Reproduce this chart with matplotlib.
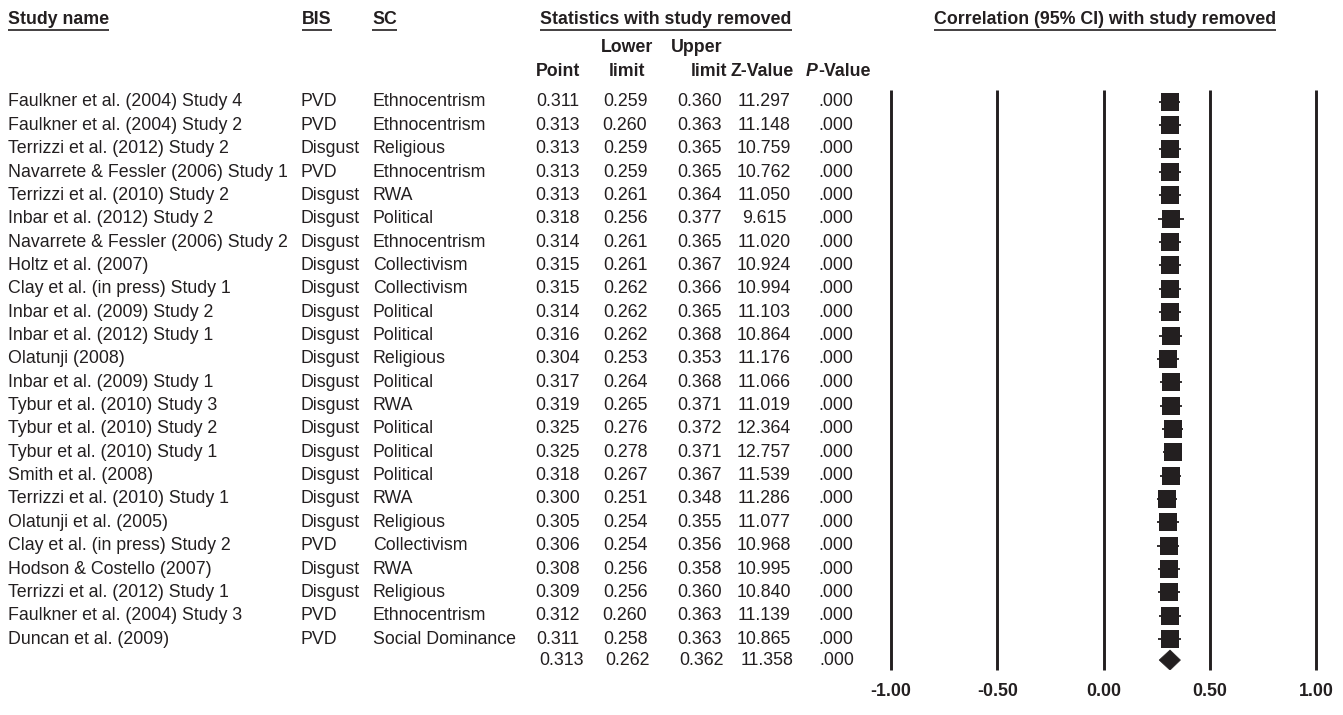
import matplotlib.pyplot as plt
from matplotlib.patches import Polygon

plt.rcParams['font.family'] = ['Liberation Sans', 'DejaVu Sans']

INK = '#231f20'

studies = ['Faulkner et al. (2004) Study 4', 'Faulkner et al. (2004) Study 2',
           'Terrizzi et al. (2012) Study 2', 'Navarrete & Fessler (2006) Study 1',
           'Terrizzi et al. (2010) Study 2', 'Inbar et al. (2012) Study 2',
           'Navarrete & Fessler (2006) Study 2', 'Holtz et al. (2007)',
           'Clay et al. (in press) Study 1', 'Inbar et al. (2009) Study 2',
           'Inbar et al. (2012) Study 1', 'Olatunji (2008)',
           'Inbar et al. (2009) Study 1', 'Tybur et al. (2010) Study 3',
           'Tybur et al. (2010) Study 2', 'Tybur et al. (2010) Study 1',
           'Smith et al. (2008)', 'Terrizzi et al. (2010) Study 1',
           'Olatunji et al. (2005)', 'Clay et al. (in press) Study 2',
           'Hodson & Costello (2007)', 'Terrizzi et al. (2012) Study 1',
           'Faulkner et al. (2004) Study 3', 'Duncan et al. (2009)']
bis = ['PVD', 'PVD', 'Disgust', 'PVD', 'Disgust', 'Disgust', 'Disgust', 'Disgust',
       'Disgust', 'Disgust', 'Disgust', 'Disgust', 'Disgust', 'Disgust', 'Disgust',
       'Disgust', 'Disgust', 'Disgust', 'Disgust', 'PVD', 'Disgust', 'Disgust',
       'PVD', 'PVD']
sc = ['Ethnocentrism', 'Ethnocentrism', 'Religious', 'Ethnocentrism', 'RWA',
      'Political', 'Ethnocentrism', 'Collectivism', 'Collectivism', 'Political',
      'Political', 'Religious', 'Political', 'RWA', 'Political', 'Political',
      'Political', 'RWA', 'Religious', 'Collectivism', 'RWA', 'Religious',
      'Ethnocentrism', 'Social Dominance']
point = [0.311, 0.313, 0.313, 0.313, 0.313, 0.318, 0.314, 0.315, 0.315, 0.314,
         0.316, 0.304, 0.317, 0.319, 0.325, 0.325, 0.318, 0.300, 0.305, 0.306,
         0.308, 0.309, 0.312, 0.311]
lower = [0.259, 0.260, 0.259, 0.259, 0.261, 0.256, 0.261, 0.261, 0.262, 0.262,
         0.262, 0.253, 0.264, 0.265, 0.276, 0.278, 0.267, 0.251, 0.254, 0.254,
         0.256, 0.256, 0.260, 0.258]
upper = [0.360, 0.363, 0.365, 0.365, 0.364, 0.377, 0.365, 0.367, 0.366, 0.365,
         0.368, 0.353, 0.368, 0.371, 0.372, 0.371, 0.367, 0.348, 0.355, 0.356,
         0.358, 0.360, 0.363, 0.363]
zval = [11.297, 11.148, 10.759, 10.762, 11.050, 9.615, 11.020, 10.924, 10.994,
        11.103, 10.864, 11.176, 11.066, 11.019, 12.364, 12.757, 11.539, 11.286,
        11.077, 10.968, 10.995, 10.840, 11.139, 10.865]
pval = ['.000'] * len(studies)

# pooled estimate
pooled = dict(point=0.313, lower=0.262, upper=0.362, z=11.358, p='.000')

xticks = [-1.0, -0.5, 0.0, 0.5, 1.0]

W, H = 1343, 715
fig = plt.figure(figsize=(W / 100, H / 100), dpi=100)

# table axes in pixel units
tab = fig.add_axes([0, 0, 1, 1])
tab.set_xlim(0, W)
tab.set_ylim(H, 0)
tab.axis('off')

row0, step = 102, 23.35
pooled_row = 23.9
fs = 12.8

def row_y(r):
    return row0 + step * r

# column centres for the numeric block
col_pt, col_lo, col_up, col_z, col_p = 558, 625, 700, 764, 836

for i, name in enumerate(studies):
    y = row_y(i)
    tab.text(8, y, name, fontsize=fs, color=INK, va='center')
    tab.text(301, y, bis[i], fontsize=fs, color=INK, va='center')
    tab.text(373, y, sc[i], fontsize=fs, color=INK, va='center')
    tab.text(col_pt, y, f'{point[i]:.3f}', fontsize=fs, color=INK, va='center', ha='center')
    tab.text(col_lo, y, f'{lower[i]:.3f}', fontsize=fs, color=INK, va='center', ha='center')
    tab.text(col_up, y, f'{upper[i]:.3f}', fontsize=fs, color=INK, va='center', ha='center')
    tab.text(col_z, y, f'{zval[i]:.3f}', fontsize=fs, color=INK, va='center', ha='center')
    tab.text(col_p, y, pval[i], fontsize=fs, color=INK, va='center', ha='center')

y = row_y(pooled_row)
tab.text(col_pt + 3, y, f"{pooled['point']:.3f}", fontsize=fs, color=INK, va='center', ha='center')
tab.text(col_lo + 2, y, f"{pooled['lower']:.3f}", fontsize=fs, color=INK, va='center', ha='center')
tab.text(col_up + 1, y, f"{pooled['upper']:.3f}", fontsize=fs, color=INK, va='center', ha='center')
tab.text(col_z + 3, y, f"{pooled['z']:.3f}", fontsize=fs, color=INK, va='center', ha='center')
tab.text(col_p + 1, y, pooled['p'], fontsize=fs, color=INK, va='center', ha='center')

# column headers
hdr = dict(fontsize=fs, color=INK, fontweight='bold', va='center')
underlined = [
    tab.text(8, 20, 'Study name', **hdr),
    tab.text(302, 20, 'BIS', **hdr),
    tab.text(372, 20, 'SC', **hdr),
    tab.text(666, 20, 'Statistics with study removed', ha='center', **hdr),
    tab.text(1105, 20, 'Correlation (95% CI) with study removed', ha='center', **hdr),
]
tab.text(col_pt, 71, 'Point', ha='center', **hdr)
tab.text(627, 48, 'Lower', ha='center', **hdr)
tab.text(627, 71, 'limit', ha='center', **hdr)
tab.text(722, 48, 'Upper', ha='right', **hdr)
tab.text(727, 71, 'limit', ha='right', **hdr)
tab.text(762, 71, 'Z-Value', ha='center', **hdr)
tab.text(818, 71, 'P', ha='right', fontstyle='italic', **hdr)
tab.text(818, 71, '-Value', ha='left', **hdr)

fig.canvas.draw()
renderer = fig.canvas.get_renderer()
inv = tab.transData.inverted()
for t in underlined:
    bb = t.get_window_extent(renderer)
    (x0, _), (x1, _) = inv.transform([(bb.x0, bb.y0), (bb.x1, bb.y0)])
    tab.plot([x0, x1], [30, 30], color=INK, lw=1.2, solid_capstyle='butt')

# forest plot
x_left, x_right = 891, 1316
y_top, y_bot = 90, 670
ax = fig.add_axes([x_left / W, 1 - y_bot / H, (x_right - x_left) / W, (y_bot - y_top) / H])
ax.set_xlim(-1, 1)
ax.set_ylim((y_bot - row0) / step, (y_top - row0) / step)
ax.patch.set_alpha(0)
for s in ax.spines.values():
    s.set_visible(False)
ax.set_yticks([])
ax.set_xticks(xticks)
ax.set_xticklabels([f'{v:.2f}' for v in xticks], fontsize=fs, fontweight='bold', color=INK)
ax.tick_params(axis='x', length=0, pad=9)

lo_y, hi_y = ax.get_ylim()
for xv in xticks:
    ax.plot([xv, xv], [lo_y, hi_y], color=INK, lw=2.1, clip_on=False, solid_capstyle='butt')

rows = list(range(len(studies)))
ax.hlines(rows, lower, upper, color=INK, lw=1.3)
ax.plot(point, rows, 's', color=INK, markersize=12.6, markeredgewidth=0)

ax.add_patch(Polygon([(pooled['lower'], pooled_row), (pooled['point'], pooled_row - 0.43),
                      (pooled['upper'], pooled_row), (pooled['point'], pooled_row + 0.43)],
                     closed=True, facecolor=INK, edgecolor=INK, lw=0.5))

fig.savefig('out.png', dpi=100)
